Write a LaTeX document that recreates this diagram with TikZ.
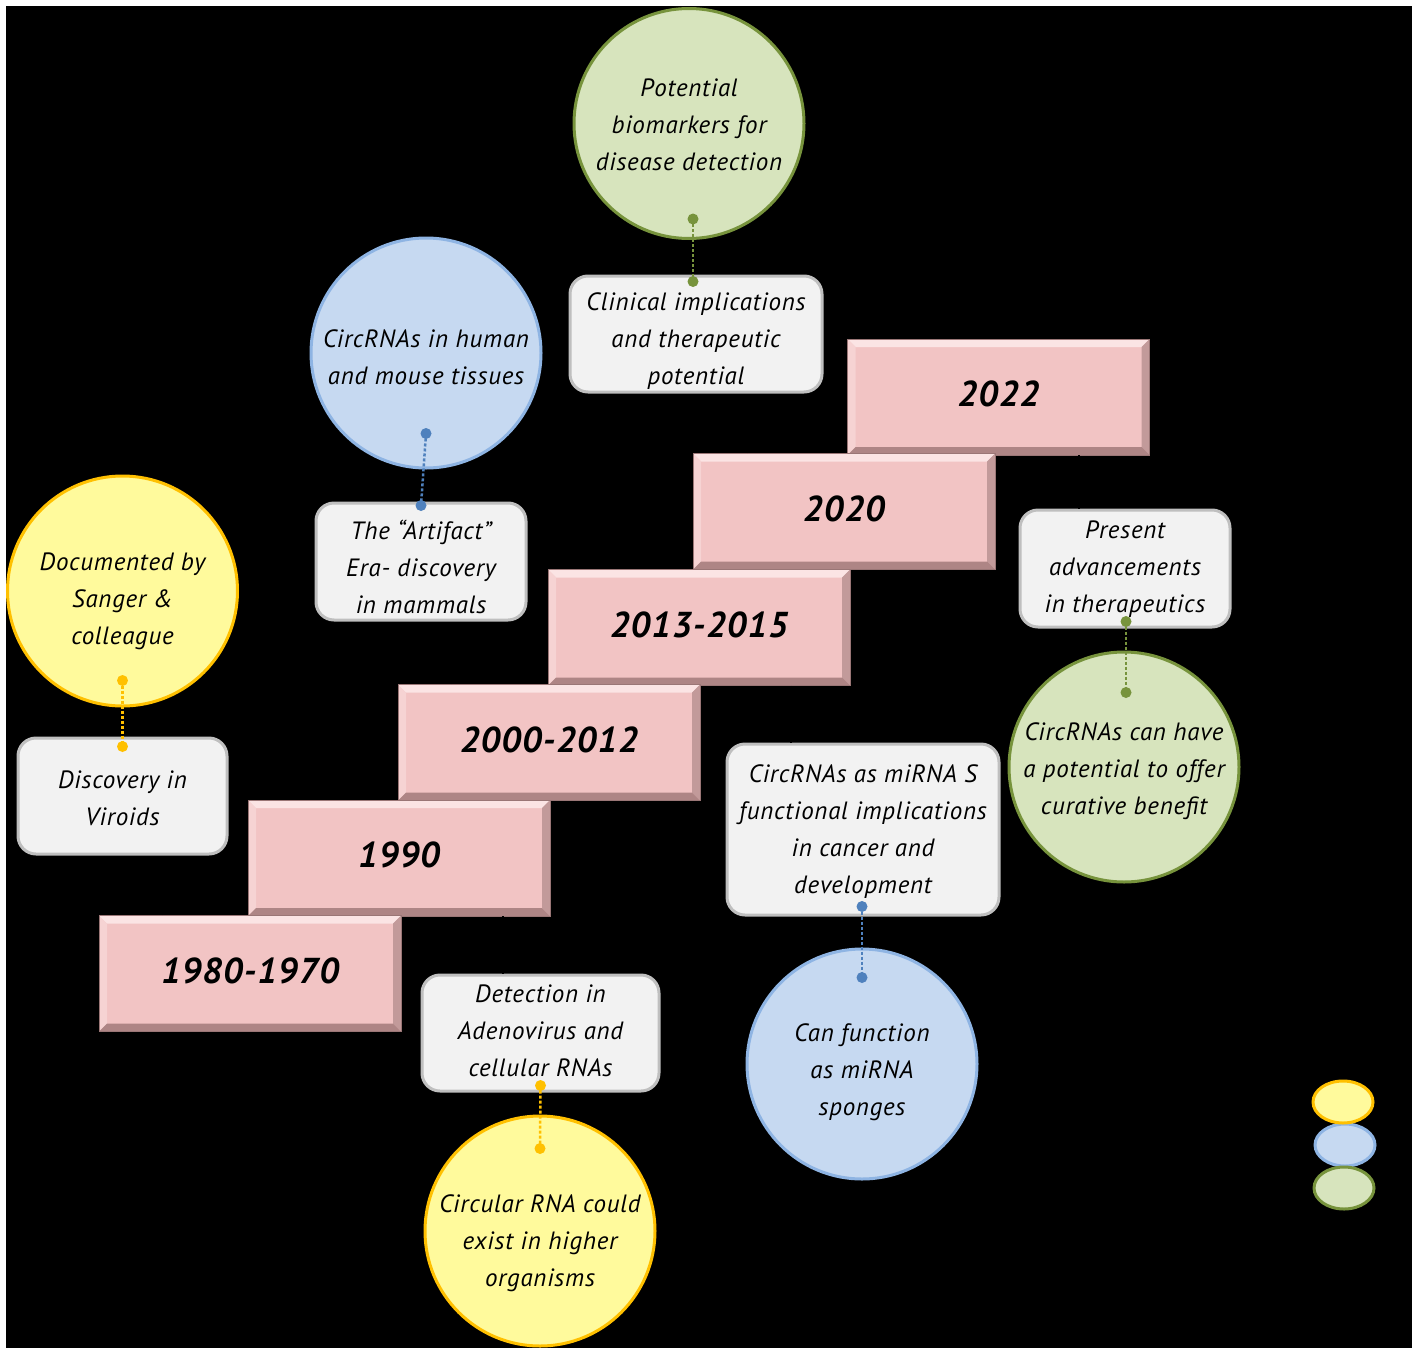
\documentclass[tikz,border=0pt]{standalone}
\usepackage{fontspec}
\setmainfont{PT Sans}[LetterSpace=3]
\usetikzlibrary{calc,shapes.geometric}
\definecolor{pinkbox}{HTML}{F2C4C4}
\definecolor{bevtop}{HTML}{FBE4E4}
\definecolor{bevleft}{HTML}{F6D3D3}
\definecolor{bevright}{HTML}{C29A9A}
\definecolor{bevbot}{HTML}{AE8585}
\definecolor{bevline}{HTML}{9A7676}
\definecolor{boxfill}{HTML}{F2F2F2}
\definecolor{boxline}{HTML}{BFBFBF}
\definecolor{yelfill}{HTML}{FFFA9C}
\definecolor{yelline}{HTML}{FFC000}
\definecolor{blufill}{HTML}{C6D9F1}
\definecolor{bluline}{HTML}{8EB4E3}
\definecolor{bludot}{HTML}{4F81BD}
\definecolor{grnfill}{HTML}{D7E4BD}
\definecolor{grnline}{HTML}{77933C}
\begin{document}
\begin{tikzpicture}[x=1pt,y=-1pt,
  yearbox/.style={rectangle, fill=pinkbox, draw=bevline, line width=0.8pt,
    minimum width=302pt, minimum height=116pt, inner sep=0pt,
    path picture={
      \fill[bevtop] (path picture bounding box.north west) -- (path picture bounding box.north east)
        -- ([shift={(-8pt,-8pt)}]path picture bounding box.north east)
        -- ([shift={(8pt,-8pt)}]path picture bounding box.north west) -- cycle;
      \fill[bevleft] (path picture bounding box.north west) -- ([shift={(8pt,-8pt)}]path picture bounding box.north west)
        -- ([shift={(8pt,8pt)}]path picture bounding box.south west) -- (path picture bounding box.south west) -- cycle;
      \fill[bevright] (path picture bounding box.north east) -- (path picture bounding box.south east)
        -- ([shift={(-8pt,8pt)}]path picture bounding box.south east)
        -- ([shift={(-8pt,-8pt)}]path picture bounding box.north east) -- cycle;
      \fill[bevbot] (path picture bounding box.south west) -- (path picture bounding box.south east)
        -- ([shift={(-8pt,8pt)}]path picture bounding box.south east)
        -- ([shift={(8pt,8pt)}]path picture bounding box.south west) -- cycle;
    }},
  yeartxt/.style={inner sep=0pt, font=\fontsize{36}{40}\selectfont\bfseries\itshape},
  tbox/.style={rectangle, rounded corners=18pt, fill=boxfill, draw=boxline, line width=3pt, inner sep=0pt},
  txt/.style={align=center, inner sep=0pt, font=\fontsize{25}{37}\selectfont\itshape},
  circ/.style={circle, minimum size=230pt, line width=3pt, inner sep=0pt},
  ycirc/.style={circ, fill=yelfill, draw=yelline},
  bcirc/.style={circ, fill=blufill, draw=bluline},
  gcirc/.style={circ, fill=grnfill, draw=grnline},
  dotline/.style={line width=2.5pt, dash pattern=on 3pt off 2pt},
  blackline/.style={line width=2.5pt, black},
  legend/.style={ellipse, minimum width=60pt, minimum height=42pt, line width=3pt, inner sep=0pt}
]
\useasboundingbox (0,0) rectangle (1418,1354);
\fill[white] (0,0) rectangle (1418,1354);
\fill[black] (6,6) rectangle (1412,1348);

% year boxes
\node[yearbox] (y2022) at (998.5,397) {};
\node[yearbox] (y2020) at (844,511.5) {};
\node[yearbox] (y2013) at (699,627.5) {};
\node[yearbox] (y2000) at (549,742.5) {};
\node[yearbox] (y1990) at (399,858) {};
\node[yearbox] (y1980) at (250,973.5) {};
\node[yeartxt] (t2022) at ($(y2022.center)+(0,-3)$) {2022};
\node[yeartxt] (t2020) at ($(y2020.center)+(0,-3)$) {2020};
\node[yeartxt] (t2013) at ($(y2013.center)+(0,-3)$) {2013-2015};
\node[yeartxt] (t2000) at ($(y2000.center)+(0,-3)$) {2000-2012};
\node[yeartxt] (t1990) at ($(y1990.center)+(0,-3)$) {1990};
\node[yeartxt] (t1980) at ($(y1980.center)+(0,-3)$) {1980-1970};

% text boxes
\node[tbox, minimum width=209pt, minimum height=116pt] (viroids) at (122.5,796) {};
\node[tbox, minimum width=237pt, minimum height=116pt] (adeno) at (540.5,1033) {};
\node[tbox, minimum width=210pt, minimum height=117pt] (artifact) at (421,561.5) {};
\node[tbox, minimum width=272pt, minimum height=171pt] (mirna) at (863,829.5) {};
\node[tbox, minimum width=252pt, minimum height=116pt] (clinical) at (696,334) {};
\node[tbox, minimum width=210pt, minimum height=117pt] (present) at (1125,568.5) {};
\node[txt] (viroidsT) at ($(viroids.center)+(0,2)$) {Discovery in\\Viroids};
\node[txt] (adenoT) at ($(adeno.center)+(0,-2)$) {Detection in\\Adenovirus and\\cellular RNAs};
\node[txt] (artifactT) at ($(artifact.center)+(0,5)$) {The “Artifact”\\Era- discovery\\in mammals};
\node[txt] (mirnaT) at ($(mirna.center)+(0,2)$) {CircRNAs as miRNA S\\functional implications\\in cancer and\\development};
\node[txt] (clinicalT) at ($(clinical.center)+(0,7)$) {Clinical implications\\and therapeutic\\potential};
\node[txt] (presentT) at ($(present.center)+(0,1)$) {Present\\advancements\\in therapeutics};

% circles
\node[ycirc] (sanger) at (122.5,591) {};
\node[ycirc] (higher) at (540,1231) {};
\node[bcirc] (human) at (426,353) {};
\node[bcirc] (sponges) at (862,1064) {};
\node[gcirc] (biomark) at (689,123.5) {};
\node[gcirc] (curative) at (1124,767) {};
\node[txt] (sangerT) at ($(sanger.center)+(0,10)$) {Documented by\\Sanger \&\\colleague};
\node[txt] (higherT) at ($(higher.center)+(0,12)$) {Circular RNA could\\exist in higher\\organisms};
\node[txt] (humanT) at ($(human.center)+(0,4)$) {CircRNAs in human\\and mouse tissues};
\node[txt] (spongesT) at ($(sponges.center)+(0,8)$) {Can function\\as miRNA\\sponges};
\node[txt] (biomarkT) at ($(biomark.center)+(0,1)$) {Potential\\biomarkers for\\disease detection};
\node[txt] (curativeT) at ($(curative.center)+(0,4)$) {CircRNAs can have\\a potential to offer\\curative benefit};

% black connectors from year boxes to text boxes
\coordinate (k1) at (163,0);
\coordinate (k2) at (503,0);
\coordinate (k3) at (452,0);
\coordinate (k4) at (791,0);
\coordinate (k5) at (748,0);
\coordinate (k6) at (1079,0);
\draw[blackline] (k1 |- y1980.north) -- (k1 |- viroids.south);
\draw[blackline] (k2 |- y1990.south) -- (k2 |- adeno.north);
\draw[blackline] (k3 |- y2000.north) -- (k3 |- artifact.south);
\draw[blackline] (k4 |- y2013.south) -- (k4 |- mirna.north);
\draw[blackline] (k5 |- y2020.north) -- (k5 |- clinical.south);
\draw[blackline] (k6 |- y2022.south) -- (k6 |- present.north);

% dotted connectors
\coordinate (d1a) at ([yshift=27pt]sanger.south);
\coordinate (d1b) at ([yshift=-10pt]viroids.north);
\coordinate (d2a) at ([yshift=7pt]adeno.south);
\coordinate (d2b) at ([yshift=-34pt]higher.north);
\coordinate (d3a) at ([yshift=36pt]human.south);
\coordinate (d3b) at ([yshift=-4pt]artifact.north);
\coordinate (d4a) at ([xshift=-1pt,yshift=10pt]mirna.south);
\coordinate (d4b) at ([yshift=-30pt]sponges.north);
\coordinate (d5a) at ([xshift=4pt,yshift=21pt]biomark.south);
\coordinate (d5b) at ([xshift=-3pt,yshift=-7pt]clinical.north);
\coordinate (d6a) at ([xshift=1pt,yshift=7pt]present.south);
\coordinate (d6b) at ([xshift=2pt,yshift=-42pt]curative.north);

\draw[dotline, yelline] (d1a) -- (d1b);
\fill[yelline] (d1a) circle (5.5pt) (d1b) circle (5.5pt);
\draw[dotline, yelline] (d2a) -- (d2b);
\fill[yelline] (d2a) circle (5.5pt) (d2b) circle (5.5pt);
\draw[dotline, bludot] (d3a) -- (d3b);
\fill[bludot] (d3a) circle (5.5pt) (d3b) circle (5.5pt);
\draw[dotline, bludot] (d4a) -- (d4b);
\fill[bludot] (d4a) circle (5.5pt) (d4b) circle (5.5pt);
\draw[dotline, grnline] (d5a) -- (d5b);
\fill[grnline] (d5a) circle (5.5pt) (d5b) circle (5.5pt);
\draw[dotline, grnline] (d6a) -- (d6b);
\fill[grnline] (d6a) circle (5.5pt) (d6b) circle (5.5pt);

% legend
\node[legend, fill=blufill, draw=bluline] (legb) at (1345,1145) {};
\node[legend, fill=yelfill, draw=yelline] (legy) at (1343,1102) {};
\node[legend, fill=grnfill, draw=grnline] (legg) at (1344,1188) {};
\end{tikzpicture}
\end{document}
